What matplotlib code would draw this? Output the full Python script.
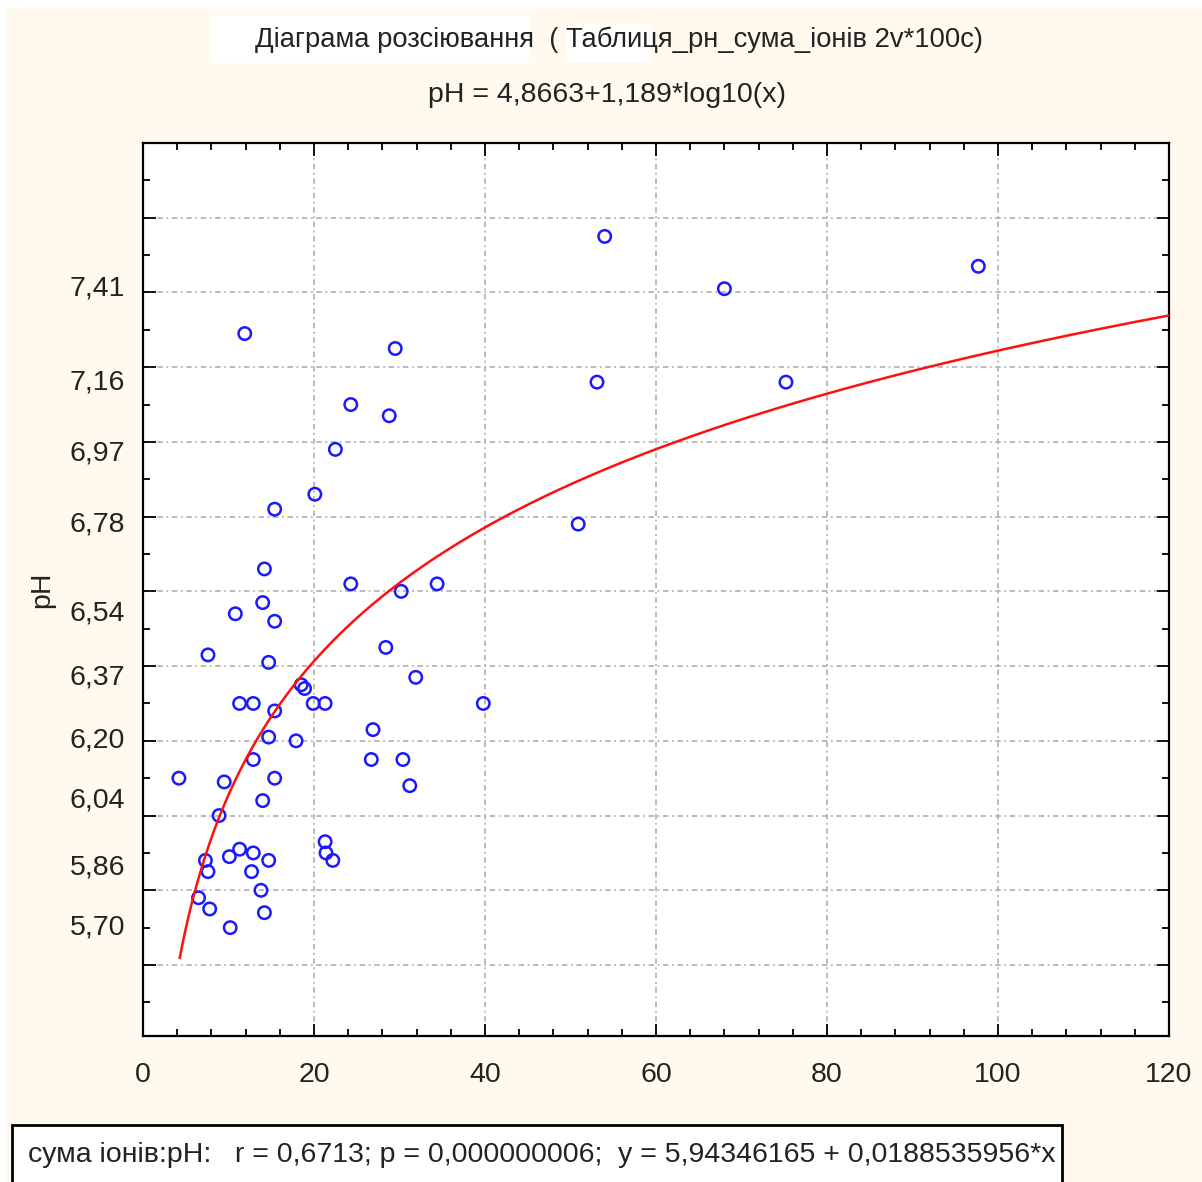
import numpy as np
import matplotlib
matplotlib.use('Agg')
import matplotlib.pyplot as plt
from matplotlib.patches import Rectangle
from matplotlib.ticker import MultipleLocator

# сума іонів (x) та pH (y) для кожної проби
ion_sum = [4.2, 6.5, 7.3, 7.6, 7.8, 7.6, 8.9, 9.5, 10.1, 10.2,
           10.8, 11.3, 11.3, 11.9, 12.9, 12.9, 12.9, 12.7, 13.8, 14.0,
           14.0, 14.2, 14.2, 14.7, 14.7, 14.7, 15.4, 15.4, 15.4, 15.4,
           17.9, 18.5, 18.9, 19.9, 20.1, 21.3, 21.3, 21.4, 22.2, 22.5,
           24.3, 24.3, 26.7, 26.9, 28.4, 28.8, 29.5, 30.2, 30.4, 31.2,
           31.9, 34.4, 39.8, 50.9, 53.1, 54.0, 68.0, 75.2, 97.7]
ph = [6.10, 5.78, 5.88, 5.85, 5.75, 6.43, 6.00, 6.09, 5.89, 5.70,
      6.54, 6.30, 5.91, 7.29, 6.30, 6.15, 5.90, 5.85, 5.80, 6.04,
      6.57, 6.66, 5.74, 5.88, 6.21, 6.41, 6.82, 6.52, 6.28, 6.10,
      6.20, 6.35, 6.34, 6.30, 6.86, 6.30, 5.93, 5.90, 5.88, 6.98,
      7.10, 6.62, 6.15, 6.23, 6.45, 7.07, 7.25, 6.60, 6.15, 6.08,
      6.37, 6.62, 6.30, 6.78, 7.16, 7.55, 7.41, 7.16, 7.47]

ph_labels = [5.70, 5.86, 6.04, 6.20, 6.37, 6.54, 6.78, 6.97, 7.16, 7.41]
x_ticks = [0, 20, 40, 60, 80, 100, 120]

# pH = a + b*log10(x)
fit_a, fit_b = 4.8663, 1.189
fit_x_min, fit_x_max = 4.3, 120

W, H = 1202, 1182
BG = '#fff9ee'
FS = 20.5
TXT = '#222222'

plt.rcParams['font.family'] = ['Liberation Sans', 'DejaVu Sans']

fig = plt.figure(figsize=(W / 100, H / 100), dpi=100, facecolor=BG)


def fx(px):
    return px / W


def fy(py):
    return 1 - py / H


# white strips along the top and left edge
fig.patches.append(Rectangle((0, fy(7)), 1, 7 / H, transform=fig.transFigure,
                             facecolor='white', edgecolor='none', zorder=0))
fig.patches.append(Rectangle((0, 0), 7 / W, 1, transform=fig.transFigure,
                             facecolor='white', edgecolor='none', zorder=0))

ax = fig.add_axes([fx(143), fy(1036), 1026 / W, 893 / H])
ax.set_facecolor('white')
ax.set_xlim(0, 120)
ax.set_ylim(5.41, 7.80)

ax.set_xticks(x_ticks)
ax.set_xticklabels([str(v) for v in x_ticks], fontsize=FS)
ax.xaxis.set_minor_locator(MultipleLocator(4))
ax.set_yticks(np.arange(5.6, 7.61, 0.2))
ax.set_yticklabels([])
ax.yaxis.set_minor_locator(MultipleLocator(0.1))

ax.tick_params(which='both', direction='in', top=True, right=True,
               color='black', width=1.3)
ax.tick_params(which='major', length=9)
ax.tick_params(which='minor', length=5)
ax.tick_params(axis='x', pad=19, labelcolor=TXT)

ax.grid(True, which='major', color='#b4b4b4', linestyle=(0, (3, 2, 1, 2)),
        linewidth=1.3)
ax.set_axisbelow(True)
for sp in ax.spines.values():
    sp.set_linewidth(1.6)
    sp.set_color('black')

# y labels at the values themselves
for v in ph_labels:
    ax.text(-0.0175, v, f'{v:.2f}'.replace('.', ','), transform=ax.get_yaxis_transform(),
            ha='right', va='center', fontsize=FS, color=TXT)

ax.scatter(ion_sum, ph, s=80, facecolors='none', edgecolors='#1a1aff',
           linewidths=1.8, zorder=3, clip_on=False)

xs = np.linspace(fit_x_min, fit_x_max, 400)
ax.plot(xs, fit_a + fit_b * np.log10(xs), color='#ff1010', linewidth=1.8, zorder=4)

fig.text(fx(42), fy(590), 'pH', rotation=90, ha='center', va='center',
         fontsize=FS, color=TXT)

# title block
fig.patches.append(Rectangle((fx(211), fy(63)), 318 / W, 48 / H, transform=fig.transFigure,
                             facecolor='white', edgecolor='none', zorder=1))
fig.patches.append(Rectangle((fx(567), fy(62)), 85 / W, 37 / H, transform=fig.transFigure,
                             facecolor='white', edgecolor='none', zorder=1))
fig.text(fx(619), fy(40), 'Діаграма розсіювання  ( Таблиця_рн_сума_іонів 2v*100c)',
         ha='center', va='center', fontsize=FS - 0.8, color=TXT, zorder=2)
fig.text(fx(607), fy(95), 'pH = 4,8663+1,189*log10(x)',
         ha='center', va='center', fontsize=FS, color=TXT, zorder=2)

# statistics box
fig.patches.append(Rectangle((fx(12), fy(1190)), 1050 / W, 65 / H, transform=fig.transFigure,
                             facecolor='white', edgecolor='black', linewidth=2, zorder=1))
fig.text(fx(28), fy(1155),
         'сума іонів:pH:   r = 0,6713; p = 0,000000006;  y = 5,94346165 + 0,0188535956*x',
         ha='left', va='center', fontsize=FS, color=TXT, zorder=2)

fig.savefig('out.png', dpi=100, facecolor=BG)
